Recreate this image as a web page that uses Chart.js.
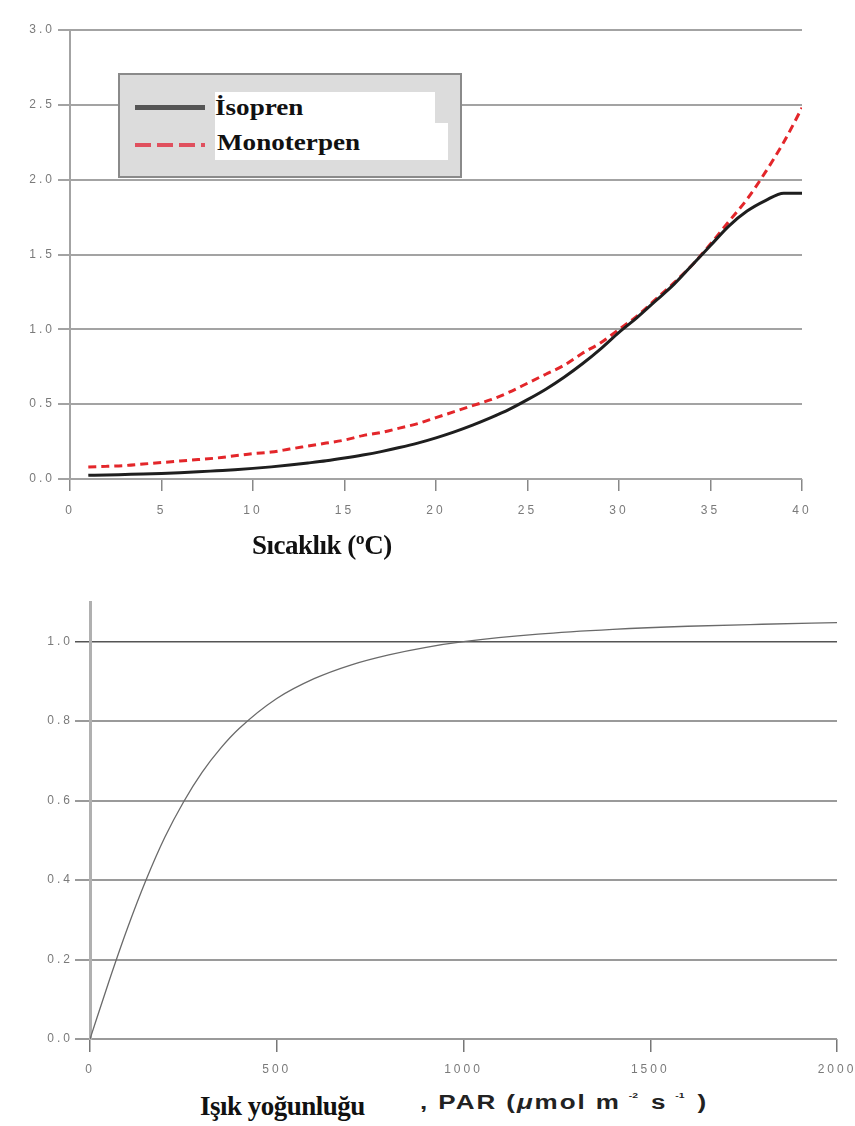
<!DOCTYPE html>
<html>
<head>
<meta charset="utf-8">
<script src="https://cdn.jsdelivr.net/npm/chart.js@4/dist/chart.umd.min.js"></script>
<style>
  body { margin: 0; background: #fff; }
  .page { position: relative; width: 855px; height: 1126px; overflow: hidden; }
  canvas { position: absolute; left: 0; }
  .legend {
    position: absolute; left: 118px; top: 73px; width: 340px; height: 101px;
    background: #dcdcdc; border: 2px solid #8a8a8a;
  }
  .legend .white { position: absolute; background: #fff; }
  .legend .sample { position: absolute; left: 15px; width: 70px; }
  .legend .label {
    position: absolute; font: bold 24px "Liberation Serif", serif; color: #111;
    transform: scaleX(1.13); transform-origin: left center; white-space: nowrap;
  }
  .title-serif {
    position: absolute; font: bold 27px "Liberation Serif", serif; color: #111;
    letter-spacing: -0.5px; white-space: nowrap;
  }
  .title-sans {
    position: absolute; font: bold 20px "Liberation Sans", Arial, sans-serif; color: #222;
    letter-spacing: 1.5px; white-space: nowrap;
    transform: scaleX(1.3); transform-origin: left center;
  }
  .title-sans sup { font-size: 8px; vertical-align: 11px; margin: 0 10px 0 6px; letter-spacing: 0; }
</style>
</head>
<body>
<div class="page">
  <canvas id="tempChart" style="top:0" width="855" height="530"></canvas>
  <canvas id="lightChart" style="top:560px" width="855" height="530"></canvas>

  <div class="legend">
    <div class="white" style="left:95px; top:17px; width:220px; height:33px"></div>
    <div class="white" style="left:95px; top:48px; width:233px; height:37px"></div>
    <div class="sample" style="top:30px; height:5px; background:#555"></div>
    <div class="sample" style="top:68px; height:4px;
      background:repeating-linear-gradient(90deg,#e0505e 0 16px,transparent 16px 22px)"></div>
    <div class="label" style="left:95px; top:19px">İsopren</div>
    <div class="label" style="left:97px; top:54px">Monoterpen</div>
  </div>

  <div class="title-serif" style="left:252px; top:530px">Sıcaklık (ºC)</div>
  <div class="title-serif" style="left:200px; top:1091px">Işık yoğunluğu</div>
  <div class="title-sans" style="left:420px; top:1091px">, PAR (<i>μ</i>mol m<sup>-2</sup>s<sup>-1</sup>)</div>
</div>

<script>
// top chart: temperature response
const temps = [1, 2, 3, 4, 5, 6, 7, 8, 9, 10, 11, 12, 13, 14, 15, 16, 17, 18, 19, 20,
  21, 22, 23, 24, 25, 26, 27, 28, 29, 30, 31, 32, 33, 34, 35, 36, 37, 38, 39, 40];
const isoprenValues = [0.025, 0.027, 0.03, 0.033, 0.037, 0.042, 0.048, 0.055, 0.062, 0.071,
  0.081, 0.093, 0.107, 0.122, 0.14, 0.16, 0.183, 0.21, 0.24, 0.275,
  0.315, 0.36, 0.41, 0.465, 0.53, 0.6, 0.68, 0.77, 0.87, 0.98,
  1.08, 1.19, 1.3, 1.43, 1.56, 1.69, 1.79, 1.86, 1.91, 1.91];
const monoterpenValues = [0.08, 0.085, 0.09, 0.1, 0.11, 0.12, 0.13, 0.14, 0.155, 0.17,
  0.18, 0.2, 0.22, 0.24, 0.26, 0.29, 0.31, 0.34, 0.37, 0.41,
  0.45, 0.49, 0.53, 0.58, 0.64, 0.7, 0.76, 0.84, 0.91, 1.0,
  1.09, 1.2, 1.31, 1.43, 1.57, 1.72, 1.87, 2.05, 2.25, 2.48];
const tempTicks = [0, 5, 10, 15, 20, 25, 30, 35, 40];
const tempYTicks = [0, 0.5, 1.0, 1.5, 2.0, 2.5, 3.0];

// bottom chart: light response
const parValues = [0, 50, 100, 150, 200, 250, 300, 350, 400, 500, 600, 700, 800, 900,
  1000, 1200, 1400, 1600, 1800, 2000];
const lightValues = [0, 0.143, 0.278, 0.4, 0.507, 0.596, 0.671, 0.732, 0.782, 0.857,
  0.907, 0.942, 0.967, 0.986, 1.0, 1.019, 1.031, 1.039, 1.044, 1.048];
const parTicks = [0, 500, 1000, 1500, 2000];
const lightYTicks = [0, 0.2, 0.4, 0.6, 0.8, 1.0];

const TICK_FONT = { family: "'Liberation Sans', Arial, sans-serif", size: 12 };
const TICK_COLOR = "#7a7a7a";

// wide, blurry tick numbers of the scanned figure
const letterSpacingPlugin = {
  id: "letterSpacing",
  beforeDraw(chart) {
    chart.ctx.letterSpacing = "3px";
  },
};

function toPoints(xs, ys) {
  return xs.map((x, i) => ({ x: x, y: ys[i] }));
}

function fixTicks(values) {
  return (scale) => {
    scale.ticks = values.map((v) => ({ value: v }));
  };
}

function fixSize(prop, size) {
  return (scale) => {
    scale[prop] = size;
    scale.paddingLeft = 0;
    scale.paddingRight = 0;
  };
}

new Chart(document.getElementById("tempChart"), {
  type: "line",
  data: {
    datasets: [
      {
        label: "İsopren",
        data: toPoints(temps, isoprenValues),
        borderColor: "#1e1e1e",
        borderWidth: 3,
        pointRadius: 0,
        cubicInterpolationMode: "monotone",
      },
      {
        label: "Monoterpen",
        data: toPoints(temps, monoterpenValues),
        borderColor: "#e3262a",
        borderWidth: 3,
        borderDash: [8, 5],
        pointRadius: 0,
        cubicInterpolationMode: "monotone",
      },
    ],
  },
  options: {
    responsive: false,
    animation: false,
    layout: { padding: { top: 30, right: 53, left: 0, bottom: 0 } },
    plugins: { legend: { display: false }, tooltip: { enabled: false } },
    scales: {
      x: {
        type: "linear",
        min: 0,
        max: 40,
        afterBuildTicks: fixTicks(tempTicks),
        afterFit: fixSize("height", 51),
        grid: { drawOnChartArea: false, color: "#888", lineWidth: 1.5, tickLength: 12 },
        border: { display: false },
        ticks: {
          font: TICK_FONT,
          color: TICK_COLOR,
          padding: 12,
          maxRotation: 0,
          callback: (value) => String(value),
        },
      },
      y: {
        min: 0,
        max: 3,
        afterBuildTicks: fixTicks(tempYTicks),
        afterFit: fixSize("width", 70),
        grid: { color: "#a3a3a3", lineWidth: 2, tickLength: 12 },
        border: { display: true, color: "#a3a3a3", width: 2 },
        ticks: {
          font: TICK_FONT,
          color: TICK_COLOR,
          padding: 3,
          callback: (value) => value.toFixed(1),
        },
      },
    },
  },
  plugins: [letterSpacingPlugin],
});

new Chart(document.getElementById("lightChart"), {
  type: "line",
  data: {
    datasets: [
      {
        label: "PAR",
        data: toPoints(parValues, lightValues),
        borderColor: "#6a6a6a",
        borderWidth: 1.3,
        pointRadius: 0,
        cubicInterpolationMode: "monotone",
      },
    ],
  },
  options: {
    responsive: false,
    animation: false,
    layout: { padding: { top: 42, right: 18, left: 0, bottom: 0 } },
    plugins: { legend: { display: false }, tooltip: { enabled: false } },
    scales: {
      x: {
        type: "linear",
        min: 0,
        max: 2000,
        afterBuildTicks: fixTicks(parTicks),
        afterFit: fixSize("height", 51),
        grid: { drawOnChartArea: false, color: "#777", lineWidth: 1.5, tickLength: 13 },
        border: { display: false },
        ticks: {
          font: TICK_FONT,
          color: TICK_COLOR,
          padding: 10,
          maxRotation: 0,
          callback: (value) => String(value),
        },
      },
      y: {
        min: 0,
        max: 1.1,
        afterBuildTicks: fixTicks(lightYTicks),
        afterFit: fixSize("width", 90),
        grid: {
          color: (ctx) => (ctx.tick && ctx.tick.value === 1 ? "#555" : "#9a9a9a"),
          lineWidth: (ctx) => (ctx.tick && ctx.tick.value === 1 ? 1.5 : 2),
          tickLength: 15,
        },
        border: { display: true, color: "#b0b0b0", width: 3 },
        ticks: {
          font: TICK_FONT,
          color: TICK_COLOR,
          padding: 2,
          callback: (value) => value.toFixed(1),
        },
      },
    },
  },
  plugins: [letterSpacingPlugin],
});
</script>
</body>
</html>
